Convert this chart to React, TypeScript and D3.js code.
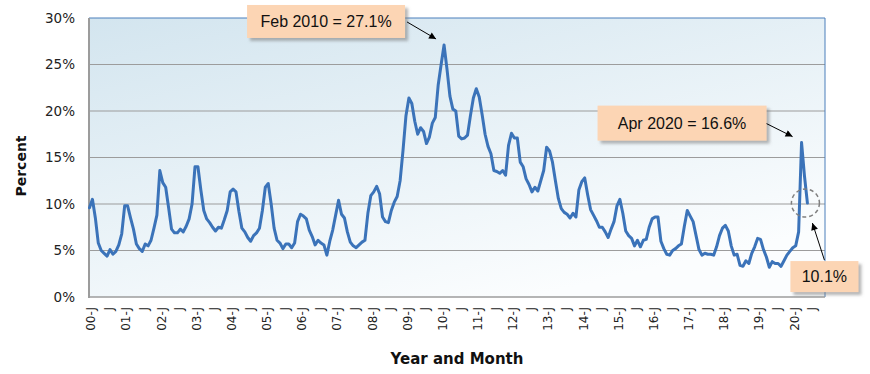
import React from "react";
import * as d3 from "d3";

// monthly values, Jan 2000 .. Jun 2020 (percent)
const years = d3.range(2000, 2021);
const monthLetters = ["J", "F", "M", "A", "M", "J", "J", "A", "S", "O", "N", "D"];
const rates = [
  9.6, 10.5, 8.5, 5.8, 5.0, 4.7, 4.4, 5.1, 4.6, 4.9, 5.6, 6.8, // 2000
  9.8, 9.8, 8.5, 7.3, 5.7, 5.2, 4.9, 5.7, 5.5, 6.1, 7.4, 8.8, // 2001
  13.6, 12.3, 11.8, 9.6, 7.3, 6.9, 6.9, 7.3, 7.0, 7.6, 8.4, 10.0, // 2002
  14.0, 14.0, 11.5, 9.3, 8.4, 8.0, 7.5, 7.1, 7.5, 7.4, 8.3, 9.3, // 2003
  11.3, 11.6, 11.3, 9.2, 7.4, 7.0, 6.4, 6.0, 6.6, 6.9, 7.4, 9.3, // 2004
  11.8, 12.2, 10.0, 7.4, 6.1, 5.8, 5.2, 5.7, 5.7, 5.3, 5.8, 8.1, // 2005
  8.9, 8.7, 8.4, 7.2, 6.5, 5.6, 6.1, 5.8, 5.6, 4.5, 6.0, 7.2, // 2006
  8.8, 10.4, 8.9, 8.5, 7.0, 5.9, 5.5, 5.3, 5.6, 5.9, 6.1, 9.0, // 2007
  10.9, 11.3, 11.9, 11.1, 8.6, 8.1, 8.0, 9.3, 10.2, 10.8, 12.5, 15.8, // 2008
  19.5, 21.4, 20.8, 18.9, 17.5, 18.2, 17.8, 16.5, 17.2, 18.7, 19.3, 22.8, // 2009
  25.0, 27.1, 24.5, 21.6, 20.2, 20.0, 17.3, 17.0, 17.1, 17.4, 19.5, 21.4, // 2010
  22.4, 21.5, 19.6, 17.5, 16.2, 15.4, 13.6, 13.5, 13.3, 13.6, 13.1, 16.3, // 2011
  17.6, 17.1, 17.1, 14.5, 14.0, 12.7, 12.1, 11.3, 11.8, 11.4, 12.5, 13.6, // 2012
  16.1, 15.7, 14.5, 12.5, 10.6, 9.5, 9.1, 8.9, 8.5, 9.0, 8.6, 11.5, // 2013
  12.4, 12.8, 11.0, 9.4, 8.8, 8.2, 7.5, 7.5, 7.0, 6.4, 7.3, 8.1, // 2014
  9.8, 10.5, 9.0, 7.1, 6.6, 6.3, 5.5, 6.1, 5.4, 6.1, 6.2, 7.5, // 2015
  8.4, 8.6, 8.6, 6.0, 5.2, 4.6, 4.5, 5.0, 5.2, 5.5, 5.7, 7.6, // 2016
  9.3, 8.7, 8.1, 6.6, 5.1, 4.5, 4.7, 4.6, 4.6, 4.5, 5.4, 6.6, // 2017
  7.4, 7.7, 7.1, 5.5, 4.5, 4.6, 3.4, 3.3, 3.9, 3.6, 4.7, 5.4, // 2018
  6.3, 6.2, 5.1, 4.3, 3.2, 3.8, 3.6, 3.6, 3.3, 3.9, 4.5, 4.9, // 2019
  5.3, 5.5, 7.0, 16.6, 13.0, 10.1, // 2020
];
const yTicks = [0, 5, 10, 15, 20, 25, 30];

const notes = [
  { index: 121, value: 27.1, text: "Feb 2010 = 27.1%" },
  { index: 243, value: 16.6, text: "Apr 2020 = 16.6%" },
  { index: 245, value: 10.1, text: "10.1%" },
];

// category labels: "00-J", "F", "M", ...
const categories: string[] = [];
years.forEach((yr) =>
  monthLetters.forEach((m, k) =>
    categories.push(k === 0 ? `${String(yr).slice(2)}-${m}` : m)
  )
);

const W = 870;
const H = 374;
const left = 89;
const right = 825;
const top = 18;
const bottom = 297;

const font = "'DejaVu Sans', sans-serif";
const noteFont = "'Liberation Sans', Arial, sans-serif";

export default function App() {
  const x = d3
    .scalePoint<number>()
    .domain(d3.range(categories.length))
    .range([left + 0.5, right]);
  const y = d3.scaleLinear().domain([0, 30]).range([bottom, top]);

  const line = d3
    .line<number>()
    .x((d, i) => x(i) as number)
    .y((d) => y(d))
    .curve(d3.curveLinear);

  const pts = notes.map((n) => ({ ...n, px: x(n.index) as number, py: y(n.value) }));
  const [n1, n2, n3] = pts;

  // annotation boxes (placed relative to the point they describe)
  const boxes = [
    { x: n1.px - 197, y: n1.py - 40, w: 158, h: 33, text: n1.text },
    { x: n2.px - 204, y: n2.py - 37, w: 169, h: 35, text: n2.text },
    { x: n3.px - 17, y: n3.py + 58, w: 68, h: 31, text: n3.text },
  ];
  const arrows = [
    { x1: n1.px - 37, y1: n1.py - 23, x2: n1.px - 8, y2: n1.py - 6 },
    { x1: n2.px - 35, y1: n2.py - 19, x2: n2.px - 9, y2: n2.py - 6 },
    { x1: n3.px + 17, y1: n3.py + 57, x2: n3.px + 5, y2: n3.py + 20 },
  ];

  return (
    <svg
      width={W}
      height={H}
      style={{ position: "absolute", left: 0, top: 0, background: "#fff" }}
    >
      <defs>
        <linearGradient id="bg" x1="0" y1="0" x2="0.6" y2="1">
          <stop offset="0%" stopColor="#d3e5ef" />
          <stop offset="100%" stopColor="#fbfdfe" />
        </linearGradient>
        <filter id="shadow" x="-10%" y="-20%" width="130%" height="160%">
          <feDropShadow dx="3" dy="3" stdDeviation="1.5" floodColor="#7a7a7a" floodOpacity="0.55" />
        </filter>
        <marker id="arrow" viewBox="0 0 10 10" refX="10" refY="5" markerWidth="9" markerHeight="7" orient="auto" markerUnits="userSpaceOnUse">
          <path d="M0,0 L10,5 L0,10 z" fill="#000" />
        </marker>
      </defs>

      <rect x={left} y={top} width={right - left} height={bottom - top} fill="url(#bg)" />

      {yTicks.map((t) => (
        <g key={t}>
          {t > 0 && t < 30 && (
            <line x1={left} x2={right} y1={y(t)} y2={y(t)} stroke="#9c9c9c" strokeWidth={1.2} />
          )}
          <text x={75} y={y(t)} dy="0.36em" textAnchor="end" fontFamily={font} fontSize={13.5} fill="#222">
            {t}%
          </text>
        </g>
      ))}

      {/* plot frame */}
      <line x1={left} x2={right} y1={top} y2={top} stroke="#4a7ebb" strokeWidth={1} />
      <line x1={right} x2={right} y1={top} y2={bottom} stroke="#4a7ebb" strokeWidth={1} />
      <line x1={left} x2={right} y1={bottom} y2={bottom} stroke="#9c9c9c" strokeWidth={1.5} />
      <line x1={left} x2={left} y1={top} y2={bottom + 1} stroke="#9c9c9c" strokeWidth={2} />

      {categories.map((c, i) =>
        i % 6 === 0 ? (
          <text
            key={i}
            transform={`translate(${(x(i) as number) + 1.5},307) rotate(-90)`}
            dy="0.36em"
            textAnchor="end"
            fontFamily={font}
            fontSize={12}
            fill="#222"
          >
            {c}
          </text>
        ) : null
      )}

      <path
        d={line(rates) || ""}
        fill="none"
        stroke="#3b73b9"
        strokeWidth={3}
        strokeLinejoin="round"
        strokeLinecap="round"
      />

      <circle cx={n3.px - 2} cy={n3.py} r={14} fill="none" stroke="#7f7f7f" strokeWidth={1.5} strokeDasharray="4 3" />

      {boxes.map((b, i) => (
        <g key={i}>
          <rect x={b.x} y={b.y} width={b.w} height={b.h} fill="#fcd5b4" filter="url(#shadow)" />
          <text
            x={b.x + b.w / 2}
            y={b.y + b.h / 2}
            dy="0.36em"
            textAnchor="middle"
            fontFamily={noteFont}
            fontSize={16}
            fill="#111"
          >
            {b.text}
          </text>
        </g>
      ))}

      {arrows.map((a, i) => (
        <line key={i} x1={a.x1} y1={a.y1} x2={a.x2} y2={a.y2} stroke="#000" strokeWidth={1} markerEnd="url(#arrow)" />
      ))}

      <text
        transform="translate(21,166) rotate(-90)"
        dy="0.36em"
        textAnchor="middle"
        fontFamily={font}
        fontWeight="bold"
        fontSize={14}
        fill="#111"
      >
        Percent
      </text>
      <text x={457} y={359} dy="0.36em" textAnchor="middle" fontFamily={font} fontWeight="bold" fontSize={15} fill="#111">
        Year and Month
      </text>
    </svg>
  );
}
